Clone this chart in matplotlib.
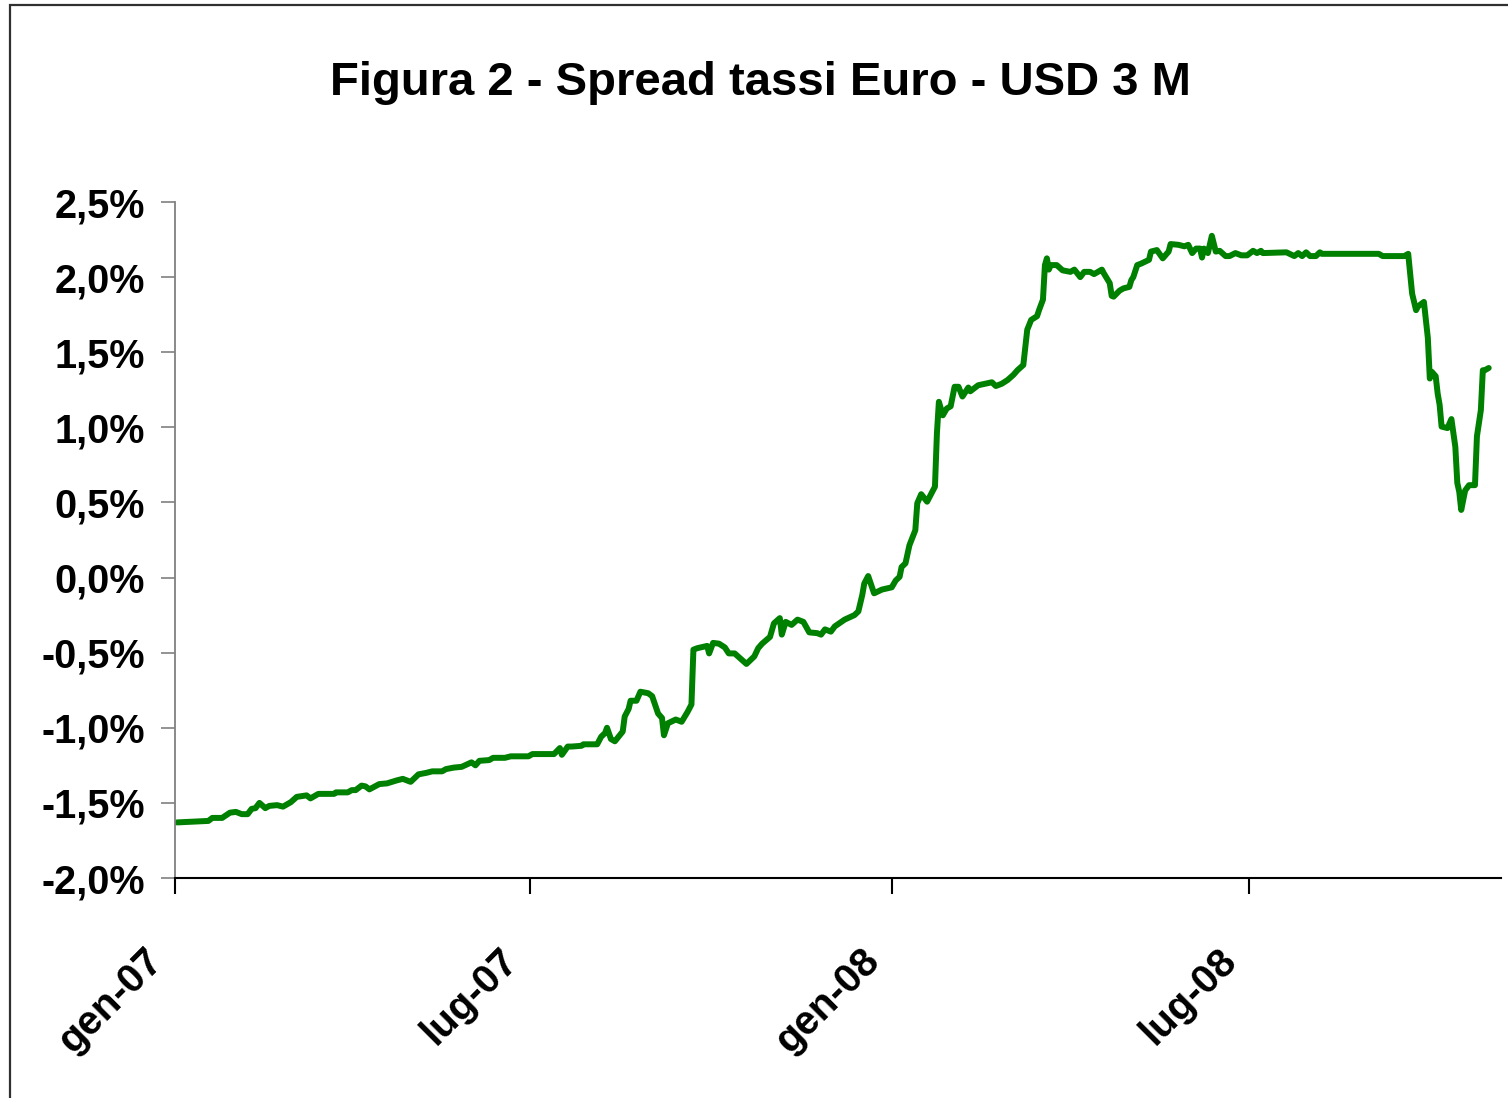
import matplotlib
matplotlib.use("Agg")
import matplotlib.pyplot as plt
import matplotlib.dates as mdates
import matplotlib.transforms as mtransforms
from matplotlib.patches import Rectangle
from matplotlib.ticker import FuncFormatter, FixedLocator
import numpy as np
import pandas as pd

title = "Figura 2 - Spread tassi Euro - USD 3 M"

dates = [
    "2007-01-02", "2007-01-18", "2007-01-20", "2007-01-25", "2007-01-29", "2007-02-01", "2007-02-04", "2007-02-07", "2007-02-09", "2007-02-11",
    "2007-02-13", "2007-02-16", "2007-02-18", "2007-02-22", "2007-02-25", "2007-03-01", "2007-03-04", "2007-03-09", "2007-03-11", "2007-03-15",
    "2007-03-23", "2007-03-24", "2007-03-30", "2007-04-01", "2007-04-03", "2007-04-06", "2007-04-08", "2007-04-10", "2007-04-15", "2007-04-19",
    "2007-04-24", "2007-04-27", "2007-05-01", "2007-05-05", "2007-05-09", "2007-05-12", "2007-05-17", "2007-05-19", "2007-05-23", "2007-05-27",
    "2007-06-01", "2007-06-03", "2007-06-05", "2007-06-10", "2007-06-12", "2007-06-18", "2007-06-21", "2007-06-30", "2007-07-02", "2007-07-13",
    "2007-07-16", "2007-07-17", "2007-07-20", "2007-07-22", "2007-07-27", "2007-07-28", "2007-08-04", "2007-08-06", "2007-08-08", "2007-08-09",
    "2007-08-11", "2007-08-13", "2007-08-17", "2007-08-18", "2007-08-20", "2007-08-21", "2007-08-24", "2007-08-26", "2007-08-30", "2007-09-01",
    "2007-09-04", "2007-09-06", "2007-09-07", "2007-09-09", "2007-09-13", "2007-09-16", "2007-09-19", "2007-09-21", "2007-09-22", "2007-09-24",
    "2007-09-29", "2007-09-30", "2007-10-02", "2007-10-05", "2007-10-08", "2007-10-10", "2007-10-13", "2007-10-19", "2007-10-23", "2007-10-25",
    "2007-10-27", "2007-10-31", "2007-11-02", "2007-11-05", "2007-11-06", "2007-11-08", "2007-11-11", "2007-11-14", "2007-11-17", "2007-11-20",
    "2007-11-24", "2007-11-26", "2007-11-28", "2007-12-01", "2007-12-03", "2007-12-08", "2007-12-13", "2007-12-15", "2007-12-17", "2007-12-18",
    "2007-12-20", "2007-12-23", "2007-12-27", "2008-01-01", "2008-01-03", "2008-01-05", "2008-01-06", "2008-01-08", "2008-01-10", "2008-01-13",
    "2008-01-14", "2008-01-16", "2008-01-19", "2008-01-23", "2008-01-24", "2008-01-25", "2008-01-27", "2008-01-29", "2008-01-31", "2008-02-02",
    "2008-02-04", "2008-02-06", "2008-02-09", "2008-02-10", "2008-02-14", "2008-02-21", "2008-02-23", "2008-02-26", "2008-02-29", "2008-03-03",
    "2008-03-05", "2008-03-08", "2008-03-10", "2008-03-12", "2008-03-15", "2008-03-16", "2008-03-18", "2008-03-19", "2008-03-20", "2008-03-21",
    "2008-03-22", "2008-03-25", "2008-03-28", "2008-04-01", "2008-04-03", "2008-04-06", "2008-04-08", "2008-04-11", "2008-04-13", "2008-04-17",
    "2008-04-18", "2008-04-21", "2008-04-22", "2008-04-23", "2008-04-26", "2008-04-28", "2008-05-01", "2008-05-02", "2008-05-03", "2008-05-05",
    "2008-05-07", "2008-05-11", "2008-05-12", "2008-05-15", "2008-05-18", "2008-05-21", "2008-05-22", "2008-05-26", "2008-05-29", "2008-05-31",
    "2008-06-02", "2008-06-04", "2008-06-06", "2008-06-07", "2008-06-08", "2008-06-10", "2008-06-12", "2008-06-14", "2008-06-16", "2008-06-19",
    "2008-06-21", "2008-06-24", "2008-06-27", "2008-06-30", "2008-07-03", "2008-07-05", "2008-07-07", "2008-07-08", "2008-07-20", "2008-07-24",
    "2008-07-26", "2008-07-28", "2008-07-30", "2008-08-01", "2008-08-04", "2008-08-06", "2008-08-07", "2008-09-05", "2008-09-07", "2008-09-18",
    "2008-09-20", "2008-09-22", "2008-09-24", "2008-09-25", "2008-09-28", "2008-09-30", "2008-10-01", "2008-10-02", "2008-10-04", "2008-10-05",
    "2008-10-06", "2008-10-07", "2008-10-10", "2008-10-12", "2008-10-14", "2008-10-15", "2008-10-16", "2008-10-17", "2008-10-19", "2008-10-21",
    "2008-10-24", "2008-10-25", "2008-10-27", "2008-10-28", "2008-10-29", "2008-10-31",
]

spread_pct = [
    -1.63, -1.62, -1.60, -1.60, -1.565, -1.56, -1.575, -1.575, -1.54, -1.535,
    -1.50, -1.535, -1.52, -1.515, -1.525, -1.495, -1.46, -1.45, -1.47, -1.44,
    -1.44, -1.43, -1.43, -1.415, -1.415, -1.385, -1.39, -1.41, -1.375, -1.37,
    -1.35, -1.34, -1.36, -1.31, -1.30, -1.29, -1.29, -1.275, -1.265, -1.26,
    -1.23, -1.25, -1.22, -1.215, -1.20, -1.20, -1.19, -1.19, -1.175, -1.175,
    -1.135, -1.18, -1.125, -1.125, -1.12, -1.11, -1.11, -1.06, -1.035, -1.00,
    -1.075, -1.09, -1.025, -0.925, -0.875, -0.82, -0.82, -0.76, -0.77, -0.79,
    -0.905, -0.935, -1.05, -0.97, -0.945, -0.96, -0.895, -0.845, -0.48, -0.47,
    -0.455, -0.505, -0.435, -0.44, -0.465, -0.505, -0.505, -0.575, -0.525, -0.47,
    -0.44, -0.395, -0.305, -0.27, -0.38, -0.295, -0.315, -0.28, -0.295, -0.365,
    -0.37, -0.38, -0.345, -0.36, -0.325, -0.28, -0.25, -0.225, -0.115, -0.04,
    0.01, -0.105, -0.08, -0.065, -0.02, 0.005, 0.07, 0.095, 0.215, 0.315,
    0.495, 0.555, 0.505, 0.605, 0.96, 1.17, 1.08, 1.125, 1.14, 1.27,
    1.27, 1.205, 1.265, 1.24, 1.28, 1.30, 1.275, 1.29, 1.315, 1.35,
    1.38, 1.415, 1.65, 1.715, 1.74, 1.78, 1.85, 2.08, 2.125, 2.05,
    2.08, 2.08, 2.045, 2.035, 2.05, 2.00, 2.035, 2.035, 2.02, 2.05,
    2.025, 1.96, 1.875, 1.87, 1.91, 1.925, 1.935, 1.98, 2.00, 2.08,
    2.09, 2.115, 2.17, 2.18, 2.125, 2.17, 2.22, 2.215, 2.205, 2.215,
    2.16, 2.19, 2.19, 2.13, 2.19, 2.16, 2.275, 2.17, 2.175, 2.14,
    2.14, 2.16, 2.145, 2.145, 2.175, 2.16, 2.175, 2.16, 2.165, 2.14,
    2.16, 2.14, 2.165, 2.14, 2.14, 2.165, 2.155, 2.155, 2.14, 2.14,
    2.155, 1.89, 1.78, 1.805, 1.835, 1.595, 1.325, 1.37, 1.34, 1.225,
    1.15, 1.005, 0.995, 1.055, 0.87, 0.63, 0.57, 0.45, 0.58, 0.615,
    0.615, 0.94, 1.115, 1.38, 1.38, 1.395,
]

x_tick_dates = ["2007-01-01", "2007-07-01", "2008-01-01", "2008-07-01"]
x_tick_labels = ["gen-07", "lug-07", "gen-08", "lug-08"]
y_ticks = [-2.0, -1.5, -1.0, -0.5, 0.0, 0.5, 1.0, 1.5, 2.0, 2.5]
x_range = ["2007-01-01", "2008-11-06"]

FONT = ["Liberation Sans", "Arial", "DejaVu Sans"]
plt.rcParams["font.family"] = FONT

W, H = 1508, 1098
fig = plt.figure(figsize=(W / 100, H / 100), dpi=100)
fig.patch.set_facecolor("white")

# outer chart-area border (only left and top edges fall inside the image)
border = Rectangle((9.5 / W, -0.1), 1.2, 1.1 - 5.5 / H, transform=fig.transFigure,
                   fill=False, edgecolor="#303030", linewidth=1.6, clip_on=False)
fig.patches.append(border)

ax = fig.add_axes([175 / W, 1 - 878 / H, (1500.5 - 175) / W, (878 - 202) / H])
x = pd.to_datetime(dates)
ax.plot(x, spread_pct, color="#008000", linewidth=4.3, solid_joinstyle="round",
        solid_capstyle="round")

ax.set_xlim(pd.Timestamp(x_range[0]), pd.Timestamp(x_range[1]))
ax.set_ylim(-2.0, 2.5)

ax.xaxis.set_major_locator(FixedLocator(mdates.date2num(pd.to_datetime(x_tick_dates))))
ax.set_xticklabels(x_tick_labels)
ax.yaxis.set_major_locator(FixedLocator(y_ticks))
ax.yaxis.set_major_formatter(FuncFormatter(lambda v, p: f"{v:.1f}%".replace(".", ",")))

for s in ["top", "right"]:
    ax.spines[s].set_visible(False)
ax.spines["left"].set_color("#808080")
ax.spines["left"].set_linewidth(1.3)
ax.spines["bottom"].set_color("black")
ax.spines["bottom"].set_linewidth(1.5)

ax.tick_params(axis="y", direction="out", length=10, width=1.2, color="#808080",
               pad=11.5, labelsize=28.5)
ax.tick_params(axis="x", direction="out", length=11.5, width=1.5, color="black",
               pad=34, labelsize=29)
for lab in ax.get_yticklabels():
    lab.set_fontweight("bold")
offset = mtransforms.ScaledTranslation(-5 / 100, 0, fig.dpi_scale_trans)
for lab in ax.get_xticklabels():
    lab.set_fontweight("bold")
    lab.set_rotation(45)
    lab.set_ha("right")
    lab.set_va("top")
    lab.set_transform(lab.get_transform() + offset)

fig.text(760 / W, 1 - 95 / H, title, ha="center", va="baseline",
         fontsize=34, fontweight="bold")

fig.savefig("out.png", dpi=100, facecolor="white")
